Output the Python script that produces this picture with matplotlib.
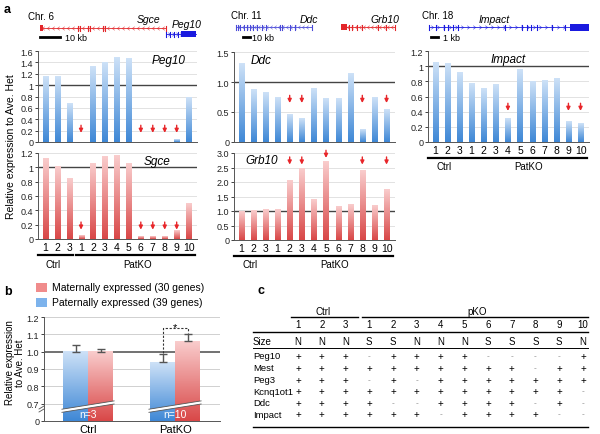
import numpy as np
import matplotlib
matplotlib.use('Agg')
import matplotlib.pyplot as plt
import matplotlib.transforms as mtrans
from matplotlib.colors import LinearSegmentedColormap
from matplotlib.path import Path
from matplotlib.patches import Rectangle, Polygon

plt.rcParams['font.family'] = ['Liberation Sans', 'DejaVu Sans']

# ---- data ----
samples = ['1', '2', '3', '1', '2', '3', '4', '5', '6', '7', '8', '9', '10']
peg10 = [1.16, 1.16, 0.68, 0.0, 1.33, 1.40, 1.49, 1.47, 0.0, 0.0, 0.0, 0.04, 0.79]
sgce = [1.12, 1.01, 0.85, 0.05, 1.06, 1.15, 1.16, 1.05, 0.03, 0.03, 0.04, 0.12, 0.50]
ddc = [1.31, 0.88, 0.82, 0.74, 0.46, 0.39, 0.89, 0.73, 0.72, 1.15, 0.21, 0.74, 0.55]
grb10 = [0.97, 1.02, 1.05, 1.04, 2.04, 2.47, 1.41, 2.69, 1.16, 1.23, 2.38, 1.20, 1.74]
impact = [1.05, 1.03, 0.91, 0.77, 0.71, 0.76, 0.31, 0.96, 0.80, 0.81, 0.84, 0.27, 0.24]

peg10_arrows = [3, 8, 9, 10, 11]
sgce_arrows = [3, 8, 9, 10, 11]
ddc_arrows = [4, 5, 10, 12]
grb10_arrows = [4, 5, 7, 10, 12]
grb10_arrow_tips = [2.6, 2.6, 2.83, 2.6, 2.6]
impact_arrows = [6, 11, 12]

groups_b = ['Ctrl', 'PatKO']
paternal = [1.00, 0.94]
paternal_err = [0.04, 0.045]
maternal = [1.00, 1.06]
maternal_err = [0.015, 0.04]
n_labels = ['n=3', 'n=10']

table_cols = ['1', '2', '3', '1', '2', '3', '4', '5', '6', '7', '8', '9', '10']
size_row = ['N', 'N', 'N', 'S', 'S', 'N', 'N', 'N', 'S', 'S', 'S', 'S', 'N']
table_genes = ['Peg10', 'Mest', 'Peg3', 'Kcnq1ot1', 'Ddc', 'Impact']
table_peg10 = '+++-++++----+'
table_mest = '++++++++++-++'
table_peg3 = '+++-+-+++++++'
table_kcnq = '++++++++++++-'
table_ddc = '++++--++++-+-'
table_impact = '++++++-++++--'

# ---- figure ----
W, H = 600, 435
fig = plt.figure(figsize=(6, 4.35), dpi=100)


def box(l, t, r, b):
    return [l / W, 1 - b / H, (r - l) / W, (b - t) / H]


ov = fig.add_axes([0, 0, 1, 1])
ov.set_xlim(0, W)
ov.set_ylim(H, 0)
ov.axis('off')

blue_cmap = LinearSegmentedColormap.from_list('bl', ['#3f88d6', '#cde1f7'])
red_cmap = LinearSegmentedColormap.from_list('rd', ['#d94848', '#f9cccc'])
GRAD = np.linspace(1, 0, 64).reshape(-1, 1)
BW = 0.42
RED = '#e8262a'


def grad_bar(ax, x, top, w, cmap, bottom=0):
    if top > bottom:
        ax.imshow(GRAD, extent=[x - w / 2, x + w / 2, bottom, top], cmap=cmap,
                  aspect='auto', zorder=2, interpolation='bilinear')


def style_axis(ax):
    for s in ['top', 'right']:
        ax.spines[s].set_visible(False)
    for s in ['left', 'bottom']:
        ax.spines[s].set_color('#555555')
        ax.spines[s].set_linewidth(0.7)
    ax.tick_params(axis='y', length=2, width=0.6, labelsize=6.5, pad=1.5, colors='#222222')
    ax.tick_params(axis='x', length=0)


def bar_panel(px, vals, cmap, ymax, ticks, ticklabels, title, tx, ty, xlabels):
    ax = fig.add_axes(box(*px))
    x = np.arange(len(vals))
    for t in ticks:
        if t != 1 and t != 0:
            ax.axhline(t, color='#dddddd', lw=0.6, zorder=0)
    ax.axhline(1, color='#444444', lw=1.0, zorder=1)
    for xi, v in zip(x, vals):
        grad_bar(ax, xi, v, BW, cmap)
    ax.set_xlim(-0.6, 12.7)
    ax.set_ylim(0, ymax)
    ax.set_yticks(ticks)
    ax.set_yticklabels(ticklabels)
    style_axis(ax)
    if xlabels:
        ax.set_xticks(x)
        ax.set_xticklabels(samples, fontsize=7.5)
        ax.tick_params(axis='x', pad=2)
        tr = mtrans.blended_transform_factory(ax.transData, ax.transAxes) + \
            mtrans.ScaledTranslation(0, -0.155, fig.dpi_scale_trans)
        ax.plot([-0.6, 2.35], [0, 0], color='k', lw=1.6, transform=tr, clip_on=False)
        ax.plot([2.55, 12.55], [0, 0], color='k', lw=1.6, transform=tr, clip_on=False)
        tr2 = mtrans.blended_transform_factory(ax.transData, ax.transAxes) + \
            mtrans.ScaledTranslation(0, -0.245, fig.dpi_scale_trans)
        ax.text(0.7, 0, 'Ctrl', transform=tr2, ha='center', va='center', fontsize=7)
        ax.text(7.7, 0, 'PatKO', transform=tr2, ha='center', va='center', fontsize=7)
    else:
        ax.set_xticks([])
    ax.text(tx, ty, title, transform=ax.transAxes, ha='center', va='center',
            fontsize=8.5, style='italic')
    return ax


def arrows(ax, idx, tips):
    for i, t in zip(idx, tips):
        ax.annotate('', xy=(i, t), xytext=(0, 5.5), textcoords='offset points',
                    arrowprops=dict(arrowstyle='-|>', color=RED, lw=1.0,
                                    mutation_scale=5.5, shrinkA=0, shrinkB=0),
                    zorder=4)


t16 = [0, 0.2, 0.4, 0.6, 0.8, 1, 1.2, 1.4, 1.6]
t12 = [0, 0.2, 0.4, 0.6, 0.8, 1, 1.2]
lab = lambda ts: ['0' if t == 0 else ('1' if t == 1 else f'{t:.1f}') for t in ts]

ax1 = bar_panel((38, 52, 197, 143), peg10, blue_cmap, 1.6, t16, lab(t16), 'Peg10', 0.82, 0.9, False)
arrows(ax1, peg10_arrows, [0.16] * len(peg10_arrows))
ax2 = bar_panel((38, 154, 197, 240), sgce, red_cmap, 1.2, t12, lab(t12), 'Sgce', 0.75, 0.91, True)
arrows(ax2, sgce_arrows, [0.13] * len(sgce_arrows))

td = [0, 0.5, 1.0, 1.5]
ax3 = bar_panel((234, 53, 395, 143), ddc, blue_cmap, 1.5, td, ['0', '0.5', '1.0', '1.5'], 'Ddc', 0.17, 0.91, False)
arrows(ax3, ddc_arrows, [0.65] * len(ddc_arrows))
tg = [0, 0.5, 1.0, 1.5, 2.0, 2.5, 3.0]
ax4 = bar_panel((234, 154, 395, 241), grb10, red_cmap, 3.0, tg, ['0', '0.5', '1.0', '1.5', '2.0', '2.5', '3.0'],
                'Grb10', 0.17, 0.92, True)
arrows(ax4, grb10_arrows, grb10_arrow_tips)

ax5 = bar_panel((428, 52, 589, 143), impact, blue_cmap, 1.2, t12, lab(t12), 'Impact', 0.5, 0.91, True)
arrows(ax5, impact_arrows, [0.41] * len(impact_arrows))

ov.text(11, 147, 'Relative expression to Ave. Het', rotation=90, ha='center', va='center', fontsize=7.5)

# ---- gene tracks (schematic) ----
chev_l = Path([(0.4, 0.6), (-0.4, 0), (0.4, -0.6)], [Path.MOVETO, Path.LINETO, Path.LINETO])
chev_r = Path([(-0.4, 0.6), (0.4, 0), (-0.4, -0.6)], [Path.MOVETO, Path.LINETO, Path.LINETO])


def track(x0, x1, y, color, ticks, chev, step=5, blocks=()):
    ov.plot([x0, x1], [y, y], color=color, lw=0.6)
    xs = np.arange(x0 + 3, x1 - 1, step)
    ov.plot(xs, [y] * len(xs), ls='none', marker=chev, ms=2.6, mew=0.45,
            mec=color, mfc='none', alpha=0.8)
    for t in ticks:
        ov.plot([t, t], [y - 2.5, y + 2.5], color=color, lw=0.8)
    for b0, b1, hh in blocks:
        ov.add_patch(Rectangle((b0, y - hh / 2), b1 - b0, hh, color=color, lw=0))


track(40, 166, 29, '#e3262a', [78, 80, 88, 90, 103, 105, 166], chev_l, blocks=[(40, 43, 6)])
track(166, 196, 35, '#1a1adf', [166, 170, 174, 178], chev_r, step=4, blocks=[(181, 196, 6)])
ov.text(28, 17, 'Chr. 6', fontsize=7, va='center')
ov.text(137, 20, 'Sgce', fontsize=7.5, style='italic', va='center')
ov.text(172, 25, 'Peg10', fontsize=7.5, style='italic', va='center')
ov.plot([40, 60], [38, 38], color='k', lw=2)
ov.text(65, 38.5, '10 kb', fontsize=6.5, va='center')

track(236, 312, 28, '#4a4ad8', [236, 238, 240, 244, 247, 250, 253, 257, 262, 266, 280, 282, 290, 295, 312],
      chev_l, step=4)
track(341, 395, 28, '#e3262a', [349, 352, 357, 362, 378, 386, 395], chev_l, step=4, blocks=[(341, 347, 6)])
ov.text(231, 16, 'Chr. 11', fontsize=7, va='center')
ov.text(300, 20, 'Ddc', fontsize=7.5, style='italic', va='center')
ov.text(370, 20, 'Grb10', fontsize=7.5, style='italic', va='center')
ov.plot([243, 250], [38, 38], color='k', lw=2)
ov.text(252, 38.5, '10 kb', fontsize=6.5, va='center')

track(429, 570, 28, '#1a1adf', [429, 436, 444, 448, 453, 458, 505, 522, 527, 531, 537, 552, 565], chev_r, step=6,
      blocks=[(570, 589, 7)])
ov.text(422, 16, 'Chr. 18', fontsize=7, va='center')
ov.text(479, 20, 'Impact', fontsize=7.5, style='italic', va='center')
ov.plot([431, 438], [38, 38], color='k', lw=2)
ov.text(443, 38.5, '1 kb', fontsize=6.5, va='center')

# ---- panel b ----


def f(v):
    v = np.asarray(v, dtype=float)
    return np.where(v <= 0.7, v / 0.7, 1 + (v - 0.7) / 0.1)


axb = fig.add_axes(box(44, 318, 220, 422))
bt = [0, 0.7, 0.8, 0.9, 1.0, 1.1, 1.2]
for t in bt[1:]:
    if t != 1.0:
        axb.axhline(f(t), color='#d0d0d0', lw=0.7, zorder=0)
axb.axhline(f(1.0), color='#666666', lw=1.3, zorder=1)
xb = np.arange(len(groups_b))
wb = 0.287
for i in xb:
    grad_bar(axb, i - wb / 2, f(paternal[i]), wb, blue_cmap)
    grad_bar(axb, i + wb / 2, f(maternal[i]), wb, red_cmap)
axb.errorbar(xb - wb / 2, f(paternal), yerr=[np.zeros(2), f(np.add(paternal, paternal_err)) - f(paternal)],
             fmt='none', ecolor='#555555', elinewidth=1, capsize=3, capthick=1, zorder=3)
axb.errorbar(xb + wb / 2, f(maternal), yerr=[np.zeros(2), f(np.add(maternal, maternal_err)) - f(maternal)],
             fmt='none', ecolor='#555555', elinewidth=1, capsize=3, capthick=1, zorder=3)
# break bands across the bars
for i in xb:
    band = Polygon([(i - 0.3, 0.50), (i + 0.3, 0.98), (i + 0.3, 1.16), (i - 0.3, 0.68)],
                   closed=True, fc='white', ec='none', zorder=3)
    axb.add_patch(band)
    axb.plot([i - 0.3, i + 0.3], [0.50, 0.98], color='#555555', lw=0.6, zorder=3)
    axb.plot([i - 0.3, i + 0.3], [0.68, 1.16], color='#555555', lw=0.6, zorder=3)
    axb.text(i, 0.42, n_labels[i], color='white', ha='center', va='center', fontsize=7.5, zorder=4)
# significance bracket
yb = f(1.135)
axb.plot([1 - wb / 2, 1 - wb / 2, 1 + wb / 2, 1 + wb / 2],
         [f(paternal[1] + paternal_err[1]) + 0.1, yb, yb, f(maternal[1] + maternal_err[1]) + 0.1],
         color='#333333', lw=0.8, ls=(0, (2, 1.5)), zorder=4)
axb.text(1, yb + 0.05, '*', ha='center', va='center', fontsize=8)
axb.set_xlim(-0.506, 1.517)
axb.set_ylim(0, 6)
axb.set_yticks(f(bt))
axb.set_yticklabels(['0', '0.7', '0.8', '0.9', '1.0', '1.1', '1.2'])
style_axis(axb)
axb.set_xticks(xb)
axb.set_xticklabels(groups_b, fontsize=8)
axb.tick_params(axis='x', pad=2)
# axis break mark
ov.add_patch(Polygon([(39, 410), (49, 404), (49, 407), (39, 413)], closed=True, fc='white', ec='none', zorder=5))
ov.plot([39, 49], [410, 404], color='#555555', lw=0.6, zorder=6)
ov.plot([39, 49], [413, 407], color='#555555', lw=0.6, zorder=6)

ov.text(15, 363, 'Relative expression\nto Ave. Het', rotation=90, ha='center', va='center',
        fontsize=7, linespacing=1.0)
ov.add_patch(Rectangle((36, 284), 11, 9, color='#f08c8c', lw=0))
ov.add_patch(Rectangle((36, 299), 11, 9, color='#7db3ec', lw=0))
ov.text(52, 288.5, 'Maternally expressed (30 genes)', fontsize=7.5, va='center')
ov.text(52, 303.5, 'Paternally expressed (39 genes)', fontsize=7.5, va='center')

# ---- panel c (table) ----
col_x = np.linspace(298, 583, len(table_cols))
row_label_x = 253
ov.text(323, 312, 'Ctrl', fontsize=7, ha='center', va='center')
ov.text(477, 312, 'pKO', fontsize=7, ha='center', va='center')
ov.plot([291, 358], [317.5, 317.5], color='k', lw=1)
ov.plot([362, 588], [317.5, 317.5], color='k', lw=1)
for x, c in zip(col_x, table_cols):
    ov.text(x, 325.5, c, fontsize=7, ha='center', va='center')
ov.plot([253, 588], [333, 333], color='k', lw=1)
ov.text(row_label_x, 342.5, 'Size', fontsize=7, va='center')
for x, c in zip(col_x, size_row):
    ov.text(x, 342.5, c, fontsize=7, ha='center', va='center')
ov.plot([253, 588], [348.5, 348.5], color='k', lw=0.7)
rows = [table_peg10, table_mest, table_peg3, table_kcnq, table_ddc, table_impact]
row_y = [357, 369, 381, 392.5, 404, 415.5]
for name, vals, y in zip(table_genes, rows, row_y):
    ov.text(row_label_x, y, name, fontsize=6.8, va='center')
    for x, c in zip(col_x, vals):
        if c == '+':
            ov.text(x, y, '+', fontsize=7, ha='center', va='center')
        else:
            ov.text(x, y - 0.5, '-', fontsize=6, ha='center', va='center', color='#888888')
ov.plot([253, 588], [427.5, 427.5], color='k', lw=1)

# panel letters
ov.text(4, 10, 'a', fontsize=9, fontweight='bold', va='center')
ov.text(4, 292, 'b', fontsize=9, fontweight='bold', va='center')
ov.text(257, 291, 'c', fontsize=9, fontweight='bold', va='center')

fig.savefig('out.png', dpi=100)
